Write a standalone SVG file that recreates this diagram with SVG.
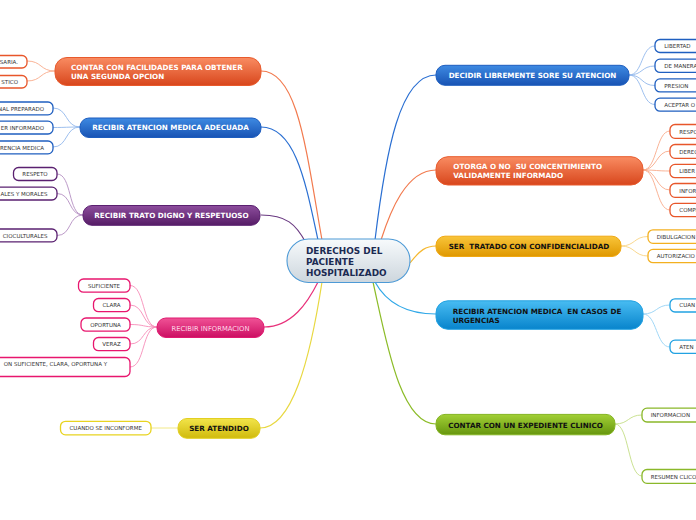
<svg xmlns="http://www.w3.org/2000/svg" width="696" height="520" viewBox="0 0 696 520">
<defs>
<linearGradient id="gC" x1="0" y1="0" x2="0" y2="1"><stop offset="0" stop-color="#f7fafc"/><stop offset="1" stop-color="#cdd6dd"/></linearGradient>
<linearGradient id="gO" x1="0" y1="0" x2="0" y2="1"><stop offset="0" stop-color="#f98c62"/><stop offset="1" stop-color="#d8461c"/></linearGradient>
<linearGradient id="gB" x1="0" y1="0" x2="0" y2="1"><stop offset="0" stop-color="#3e8ae2"/><stop offset="1" stop-color="#1853b4"/></linearGradient>
<linearGradient id="gP" x1="0" y1="0" x2="0" y2="1"><stop offset="0" stop-color="#8d4e9d"/><stop offset="1" stop-color="#561c66"/></linearGradient>
<linearGradient id="gK" x1="0" y1="0" x2="0" y2="1"><stop offset="0" stop-color="#f05296"/><stop offset="1" stop-color="#cc0e62"/></linearGradient>
<linearGradient id="gY" x1="0" y1="0" x2="0" y2="1"><stop offset="0" stop-color="#f2e44a"/><stop offset="1" stop-color="#d0ba0c"/></linearGradient>
<linearGradient id="gG" x1="0" y1="0" x2="0" y2="1"><stop offset="0" stop-color="#f9c53a"/><stop offset="1" stop-color="#df9800"/></linearGradient>
<linearGradient id="gS" x1="0" y1="0" x2="0" y2="1"><stop offset="0" stop-color="#48bcf2"/><stop offset="1" stop-color="#0884cc"/></linearGradient>
<linearGradient id="gN" x1="0" y1="0" x2="0" y2="1"><stop offset="0" stop-color="#a2d036"/><stop offset="1" stop-color="#66960e"/></linearGradient>
</defs>
<style>
text{font-family:"DejaVu Sans","Verdana",sans-serif}
.bt{font-size:7.2px;font-weight:bold}
.lt{font-size:5.5px;fill:#333}
.ct{font-size:8.9px;font-weight:bold;fill:#1b2a52}
.leaf{fill:#fff;stroke-width:1.3}
.c{fill:none;stroke-width:1.2}
.l{fill:none;stroke-width:0.9}
</style>
<g id="connectors">
<path class="c" stroke="#f27a4e" d="M261,71 C298,71 306,150 322,240"/>
<path class="c" stroke="#2a6fd2" d="M261,127 C296,127 306,185 318,240"/>
<path class="c" stroke="#6a3a82" d="M261,215 C286,215 296,224 306,243"/>
<path class="c" stroke="#e8307a" d="M264,327 C292,327 308,302 318,282"/>
<path class="c" stroke="#e8d840" d="M260,428 C292,428 310,360 322,282"/>
<path class="c" stroke="#2a6fd2" d="M436,75 C400,75 386,150 375,240"/>
<path class="c" stroke="#f27a4e" d="M436,170 C406,170 390,212 381,240"/>
<path class="c" stroke="#f5b830" d="M410,263 C420,250 426,246 436,246"/>
<path class="c" stroke="#30a8e8" d="M436,314 C406,314 386,302 375,282"/>
<path class="c" stroke="#8cbc28" d="M436,424 C400,424 386,340 373,282"/>
<g stroke="#f8aa8a">
<path class="l" d="M55,71 C40,71 42,61 27,61"/>
<path class="l" d="M55,71 C40,71 42,81 27,81"/>
</g>
<g stroke="#92b8ec">
<path class="l" d="M80,127 C65,127 68,108 53,108"/>
<path class="l" d="M80,127 C66,127 67,127.5 53,127.5"/>
<path class="l" d="M80,127 C65,127 68,147 53,147"/>
</g>
<g stroke="#b48ec2">
<path class="l" d="M83,215 C68,215 72,174 57,174"/>
<path class="l" d="M83,215 C68,215 72,193.5 57,193.5"/>
<path class="l" d="M83,215 C68,215 72,235.5 57,235.5"/>
</g>
<g stroke="#f68cb8">
<path class="l" d="M157,327 C142,327 145,285.5 130,285.5"/>
<path class="l" d="M157,327 C142,327 145,305 130,305"/>
<path class="l" d="M157,327 C142,327 145,324.5 130,324.5"/>
<path class="l" d="M157,327 C142,327 145,344 130,344"/>
<path class="l" d="M157,327 C142,327 145,367 130,367"/>
</g>
<path class="l" stroke="#f0e67a" d="M151,428 L178,428"/>
<g stroke="#92b8ec">
<path class="l" d="M629,75 C643,75 641,46 655,46"/>
<path class="l" d="M629,75 C643,75 641,66 655,66"/>
<path class="l" d="M629,75 C643,75 641,85.5 655,85.5"/>
<path class="l" d="M629,75 C643,75 641,104.5 655,104.5"/>
</g>
<g stroke="#f8aa8a">
<path class="l" d="M643,170 C657,170 656,131 670,131"/>
<path class="l" d="M643,170 C657,170 656,151 670,151"/>
<path class="l" d="M643,170 C657,170 656,171 670,171"/>
<path class="l" d="M643,170 C657,170 656,190 670,190"/>
<path class="l" d="M643,170 C657,170 656,210 670,210"/>
</g>
<g stroke="#f8d482">
<path class="l" d="M621,246 C635,246 634,236.5 648,236.5"/>
<path class="l" d="M621,246 C635,246 634,256 648,256"/>
</g>
<g stroke="#96d2f5">
<path class="l" d="M643,314 C657,314 656,305 670,305"/>
<path class="l" d="M643,314 C657,314 656,347 670,347"/>
</g>
<g stroke="#c4de86">
<path class="l" d="M615,424 C629,424 628,415 642,415"/>
<path class="l" d="M615,424 C629,424 628,476 642,476"/>
</g>
</g>
<g id="center">
<rect x="287" y="239" width="123" height="43.5" rx="21.5" fill="url(#gC)" stroke="#4d9ad6" stroke-width="1.1"/>
<text class="ct" x="306" y="253.5">DERECHOS DEL</text>
<text class="ct" x="306" y="264.5">PACIENTE</text>
<text class="ct" x="306" y="275.8">HOSPITALIZADO</text>
</g>
<g id="b-segunda-opcion">
<rect x="55" y="57.5" width="206" height="28" rx="12" fill="url(#gO)" stroke="#e85a2c"/>
<text class="bt" x="71" y="70" fill="#fff">CONTAR CON FACILIDADES PARA OBTENER</text>
<text class="bt" x="71" y="79" fill="#fff">UNA SEGUNDA OPCION</text>
</g>
<g id="l-saria"><rect class="leaf" stroke="#e8562a" x="-30" y="55.5" width="57" height="12.5" rx="5"/><text class="lt" x="18" y="63.5" text-anchor="end">SARIA.</text></g>
<g id="l-stico"><rect class="leaf" stroke="#e8562a" x="-30" y="75.5" width="57" height="12.5" rx="5"/><text class="lt" x="18" y="83.5" text-anchor="end">STICO</text></g>
<g id="b-adecuada">
<rect x="80" y="118" width="181" height="19.5" rx="9" fill="url(#gB)" stroke="#1d5dbf"/>
<text class="bt" x="170.5" y="130.3" fill="#fff" text-anchor="middle">RECIBIR ATENCION MEDICA ADECUADA</text>
</g>
<g id="l-preparado"><rect class="leaf" stroke="#1f5fc0" x="-30" y="102" width="83" height="12.8" rx="5"/><text class="lt" x="44" y="110.5" text-anchor="end">NAL PREPARADO</text></g>
<g id="l-informado"><rect class="leaf" stroke="#1f5fc0" x="-30" y="121.2" width="83" height="12.8" rx="5"/><text class="lt" x="44" y="129.8" text-anchor="end">ER INFORMADO</text></g>
<g id="l-medica"><rect class="leaf" stroke="#1f5fc0" x="-30" y="141" width="83" height="12.8" rx="5"/><text class="lt" x="44" y="149.6" text-anchor="end">RENCIA MEDICA</text></g>
<g id="b-trato">
<rect x="83" y="205.5" width="177" height="19.8" rx="9" fill="url(#gP)" stroke="#5a2070"/>
<text class="bt" x="171.5" y="218" fill="#fff" text-anchor="middle">RECIBIR TRATO DIGNO Y RESPETUOSO</text>
</g>
<g id="l-respeto"><rect class="leaf" stroke="#5a2070" x="13.5" y="167.5" width="43.5" height="13" rx="5"/><text class="lt" x="35" y="176.2" text-anchor="middle">RESPETO</text></g>
<g id="l-morales"><rect class="leaf" stroke="#5a2070" x="-30" y="187.2" width="87" height="12.8" rx="5"/><text class="lt" x="47.5" y="195.8" text-anchor="end">ALES Y MORALES</text></g>
<g id="l-culturales"><rect class="leaf" stroke="#5a2070" x="-30" y="229" width="87" height="12.8" rx="5"/><text class="lt" x="47.5" y="237.6" text-anchor="end">CIOCULTURALES</text></g>
<g id="b-informacion">
<rect x="157" y="318" width="107" height="19.5" rx="9" fill="url(#gK)" stroke="#e01a70"/>
<text x="210.5" y="330.6" fill="#ffd8e8" text-anchor="middle" font-size="6.8">RECIBIR INFORMACION</text>
</g>
<g id="l-suficiente"><rect class="leaf" stroke="#e8166e" x="78.5" y="279" width="51.5" height="13.2" rx="5"/><text class="lt" x="104" y="287.8" text-anchor="middle">SUFICIENTE</text></g>
<g id="l-clara"><rect class="leaf" stroke="#e8166e" x="93.5" y="298.5" width="36.5" height="13.2" rx="5"/><text class="lt" x="111.5" y="307.3" text-anchor="middle">CLARA</text></g>
<g id="l-oportuna"><rect class="leaf" stroke="#e8166e" x="81" y="318" width="49" height="13.2" rx="5"/><text class="lt" x="105.5" y="326.8" text-anchor="middle">OPORTUNA</text></g>
<g id="l-veraz"><rect class="leaf" stroke="#e8166e" x="93.5" y="337.5" width="36.5" height="13.2" rx="5"/><text class="lt" x="111.5" y="346.3" text-anchor="middle">VERAZ</text></g>
<g id="l-suficiente-clara"><rect class="leaf" stroke="#e8166e" x="-30" y="357.5" width="160" height="19" rx="5"/><text class="lt" x="107" y="365.8" text-anchor="end">ON SUFICIENTE, CLARA, OPORTUNA Y</text></g>
<g id="b-atendido">
<rect x="178" y="418.5" width="82" height="19.8" rx="9" fill="url(#gY)" stroke="#e2cf22"/>
<text class="bt" x="219" y="431" fill="#111" text-anchor="middle">SER ATENDIDO</text>
</g>
<g id="l-inconforme"><rect class="leaf" stroke="#e8d420" x="60.5" y="421.3" width="90.5" height="13.5" rx="5"/><text class="lt" x="105.7" y="430.4" text-anchor="middle">CUANDO SE INCONFORME</text></g>
<g id="b-decidir">
<rect x="436" y="65.3" width="193" height="20" rx="9" fill="url(#gB)" stroke="#1d5dbf"/>
<text class="bt" x="532.5" y="77.8" fill="#fff" text-anchor="middle">DECIDIR LIBREMENTE SORE SU ATENCION</text>
</g>
<g id="l-libertad"><rect class="leaf" stroke="#1f5fc0" x="655" y="39.5" width="70" height="13" rx="5"/><text class="lt" x="664.3" y="48.3">LIBERTAD</text></g>
<g id="l-manera"><rect class="leaf" stroke="#1f5fc0" x="655" y="59.2" width="70" height="13.2" rx="5"/><text class="lt" x="664.3" y="67.9">DE MANERA</text></g>
<g id="l-presion"><rect class="leaf" stroke="#1f5fc0" x="655" y="78.9" width="70" height="13" rx="5"/><text class="lt" x="664.3" y="87.5">PRESION</text></g>
<g id="l-aceptar"><rect class="leaf" stroke="#1f5fc0" x="655" y="98.2" width="70" height="13" rx="5"/><text class="lt" x="664.3" y="106.8">ACEPTAR O</text></g>
<g id="b-consentimiento">
<rect x="436" y="156.7" width="207" height="28.3" rx="12" fill="url(#gO)" stroke="#e85a2c"/>
<text class="bt" x="453.3" y="168.6" fill="#fff" xml:space="preserve">OTORGA O NO  SU CONCENTIMIENTO</text>
<text class="bt" x="453.3" y="177.8" fill="#fff">VALIDAMENTE INFORMADO</text>
</g>
<g id="l-respo"><rect class="leaf" stroke="#e8562a" x="670" y="124.5" width="60" height="13.8" rx="5"/><text class="lt" x="679.3" y="133.5">RESPO</text></g>
<g id="l-derec"><rect class="leaf" stroke="#e8562a" x="670" y="144.5" width="60" height="13.8" rx="5"/><text class="lt" x="679.3" y="153.5">DEREC</text></g>
<g id="l-liber"><rect class="leaf" stroke="#e8562a" x="670" y="164.4" width="60" height="13.3" rx="5"/><text class="lt" x="679.3" y="172.9">LIBER</text></g>
<g id="l-infor"><rect class="leaf" stroke="#e8562a" x="670" y="183.5" width="60" height="13.8" rx="5"/><text class="lt" x="679.3" y="192.5">INFOR</text></g>
<g id="l-compi"><rect class="leaf" stroke="#e8562a" x="670" y="203.4" width="60" height="13.3" rx="5"/><text class="lt" x="679.3" y="211.9">COMPI</text></g>
<g id="b-confidencialidad">
<rect x="436" y="236.2" width="185" height="20.3" rx="9" fill="url(#gG)" stroke="#f0a812"/>
<text class="bt" x="448.7" y="249" fill="#111" xml:space="preserve">SER  TRATADO CON CONFIDENCIALIDAD</text>
</g>
<g id="l-dibulgacion"><rect class="leaf" stroke="#f3b020" x="648" y="229.8" width="70" height="13.5" rx="5"/><text class="lt" x="656.7" y="238.6">DIBULGACION</text></g>
<g id="l-autorizacion"><rect class="leaf" stroke="#f3b020" x="648" y="249.4" width="70" height="13.3" rx="5"/><text class="lt" x="656.7" y="258.4">AUTORIZACIO</text></g>
<g id="b-urgencias">
<rect x="436" y="300.8" width="207" height="28.5" rx="12" fill="url(#gS)" stroke="#22a2e2"/>
<text class="bt" x="452.7" y="314" fill="#111" xml:space="preserve">RECIBIR ATENCION MEDICA  EN CASOS DE</text>
<text class="bt" x="452.7" y="322.6" fill="#111">URGENCIAS</text>
</g>
<g id="l-cuan"><rect class="leaf" stroke="#22a2e2" x="670" y="298.8" width="60" height="13.2" rx="5"/><text class="lt" x="679.3" y="307.3">CUAN</text></g>
<g id="l-aten"><rect class="leaf" stroke="#22a2e2" x="670" y="340.2" width="60" height="13.2" rx="5"/><text class="lt" x="679.3" y="348.9">ATEN</text></g>
<g id="b-expediente">
<rect x="436" y="414.4" width="179" height="20.4" rx="9" fill="url(#gN)" stroke="#84b422"/>
<text class="bt" x="525.5" y="427.5" fill="#111" text-anchor="middle">CONTAR CON UN EXPEDIENTE CLINICO</text>
</g>
<g id="l-informacion"><rect class="leaf" stroke="#8ab82a" x="642" y="408.2" width="70" height="13.8" rx="5"/><text class="lt" x="650.7" y="417.4">INFORMACION</text></g>
<g id="l-resumen"><rect class="leaf" stroke="#8ab82a" x="642" y="469.5" width="70" height="13.8" rx="5"/><text class="lt" x="650.7" y="478.8">RESUMEN CLICO</text></g>
</svg>
